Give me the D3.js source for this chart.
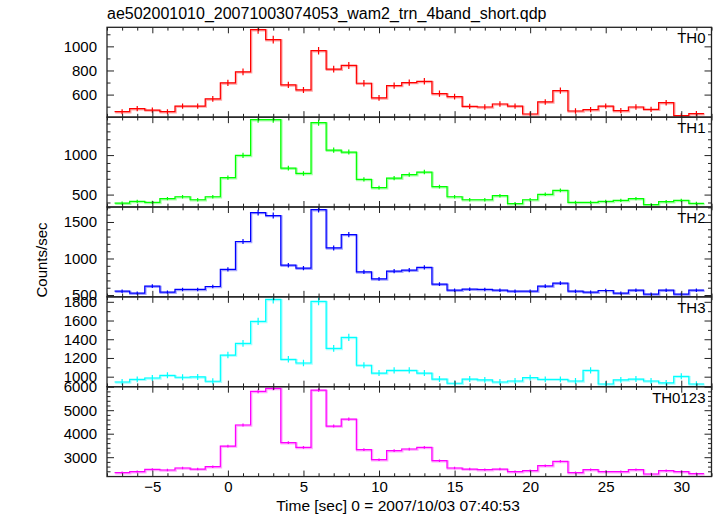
<!DOCTYPE html>
<html>
<head>
<meta charset="utf-8">
<script src="https://cdn.jsdelivr.net/npm/d3@7"></script>
<style>
  html, body { margin: 0; padding: 0; background: #fff; }
  svg { display: block; font-family: "Liberation Sans", Arial, Helvetica, sans-serif; }
</style>
</head>
<body>
<svg id="chart" width="717" height="516"></svg>
<script>
// ---- data ----
const times = [-7,-6,-5,-4,-3,-2,-1,0,1,2,3,4,5,6,7,8,9,10,11,12,13,14,15,16,17,18,19,20,21,22,23,24,25,26,27,28,29,30,31];

const th0 = [458,483,472,458,505,505,564,697,789,1139,1056,681,639,964,811,842,694,572,675,700,710,608,583,503,497,522,505,439,539,633,464,475,505,467,497,478,533,425,442];
const th0Err = [21,22,22,21,22,22,24,26,28,34,32,26,25,31,28,29,26,24,26,26,27,25,24,22,22,23,22,21,23,25,22,22,22,22,22,22,23,21,21];

const th1 = [392,414,401,448,473,435,473,714,996,1448,1448,835,768,1410,1063,1038,692,587,709,752,785,600,473,435,435,486,385,435,503,553,401,401,414,426,448,372,410,426,388];
const th1Err = [20,20,20,21,22,21,22,27,32,38,38,29,28,38,33,32,26,24,27,27,28,24,22,21,21,22,20,21,22,24,20,20,20,21,21,19,20,21,20];

const th2 = [553,526,621,540,577,577,617,850,1233,1629,1588,908,867,1669,1145,1328,817,721,827,840,878,649,567,580,577,567,553,553,621,662,553,540,562,526,567,512,567,512,567];
const th2Err = [24,23,25,23,24,24,25,29,35,40,40,30,29,41,34,36,29,27,29,29,30,25,24,24,24,24,24,24,25,26,24,23,24,23,24,23,24,23,24];

const th3 = [943,972,986,1015,994,997,951,1231,1356,1591,1826,1186,1146,1804,1303,1420,1122,1039,1068,1068,1039,975,930,975,965,943,954,989,972,972,954,1068,922,965,975,954,933,1004,922];
const th3Err = [31,31,31,32,32,32,31,35,37,40,43,34,34,42,36,38,33,32,33,33,32,31,30,31,31,31,31,31,31,31,31,33,30,31,31,31,31,32,30];

const th0123 = [2340,2383,2481,2454,2540,2496,2596,3475,4370,5800,5928,3617,3417,5858,4326,4624,3319,2894,3277,3348,3417,2851,2540,2496,2468,2496,2383,2426,2638,2823,2340,2468,2383,2383,2468,2285,2426,2383,2298];
const th0123Err = [48,49,50,50,50,50,51,59,66,76,77,60,58,77,66,68,58,54,57,58,58,53,50,50,50,50,49,49,51,53,48,50,49,49,50,48,49,49,48];

const panelNames = ["TH0", "TH1", "TH2", "TH3", "TH0123"];
const panelValues = [th0, th1, th2, th3, th0123];
const panelErrors = [th0Err, th1Err, th2Err, th3Err, th0123Err];

const yMajorTicks = [
  [600, 800, 1000],
  [500, 1000],
  [500, 1000, 1500],
  [1000, 1200, 1400, 1600, 1800],
  [3000, 4000, 5000, 6000]
];
const yMinorStep = [100, 100, 100, 100, 200];
const yDomains = [[413, 1158], [343, 1480], [475, 1705], [893, 1853], [2176, 6000]];

const xMajorTicks = [-5, 0, 5, 10, 15, 20, 25, 30];
const xMinorTicks = [-8,-7,-6,-4,-3,-2,-1,1,2,3,4,6,7,8,9,11,12,13,14,16,17,18,19,21,22,23,24,26,27,28,29,31,32];
const xDomain = [-8, 32];

const titleText = "ae502001010_20071003074053_wam2_trn_4band_short.qdp";
const xLabel = "Time [sec] 0 = 2007/10/03 07:40:53";
const yLabel = "Counts/sec";

// ---- styles / layout ----
const colors = ["#ff0000", "#00ff00", "#0000ff", "#00ffff", "#ff00ff"];
const left = 107, right = 711.5, top0 = 27.3, panelH = 89.85;
const fontSize = 15;

const svg = d3.select("#chart");
const x = d3.scaleLinear().domain(xDomain).range([left, right]);

svg.append("text")
  .attr("x", left).attr("y", 19)
  .attr("font-size", 16).attr("fill", "#000")
  .text(titleText);

const defs = svg.append("defs");

panelNames.forEach((name, i) => {
  const yTop = top0 + i * panelH;
  const yBot = yTop + panelH;
  const y = d3.scaleLinear().domain(yDomains[i]).range([yBot, yTop]);
  const g = svg.append("g");

  defs.append("clipPath").attr("id", "clip" + i)
    .append("rect").attr("x", left).attr("y", yTop).attr("width", right - left).attr("height", panelH);

  const vals = panelValues[i];
  const errs = panelErrors[i];
  const pts = [];
  times.forEach((t, k) => { pts.push([t - 0.5, vals[k]]); pts.push([t + 0.5, vals[k]]); });
  const line = d3.line().x(d => x(d[0])).y(d => y(d[1]));

  const data = g.append("g").attr("clip-path", `url(#clip${i})`);
  data.append("path").attr("d", line(pts))
    .attr("fill", "none").attr("stroke", colors[i]).attr("stroke-width", 2.2)
    .attr("stroke-opacity", 0.35).attr("transform", "translate(0.7,0.7)");
  data.append("path").attr("d", line(pts))
    .attr("fill", "none").attr("stroke", colors[i]).attr("stroke-width", 1.2);
  data.selectAll("line.err").data(times).enter().append("line")
    .attr("class", "err")
    .attr("x1", t => x(t)).attr("x2", t => x(t))
    .attr("y1", (t, k) => y(vals[k] - errs[k]))
    .attr("y2", (t, k) => y(vals[k] + errs[k]))
    .attr("stroke", colors[i]).attr("stroke-width", 1.2);

  // y minor ticks
  const [d0, d1] = yDomains[i];
  const step = yMinorStep[i];
  const minors = [];
  for (let v = Math.ceil(d0 / step) * step; v <= d1; v += step) {
    if (!yMajorTicks[i].includes(v)) minors.push(v);
  }

  const styleAxis = sel => {
    sel.select(".domain").remove();
    sel.selectAll(".tick line").attr("stroke", "#222").attr("stroke-width", 1);
    sel.selectAll(".tick text").attr("font-size", fontSize).attr("fill", "#000")
      .attr("font-family", "'Liberation Sans', Arial, sans-serif");
  };

  g.append("g").attr("transform", `translate(${left},0)`)
    .call(d3.axisLeft(y).tickValues(yMajorTicks[i]).tickSize(-7).tickPadding(10).tickFormat(d3.format("d")))
    .call(styleAxis);
  g.append("g").attr("transform", `translate(${left},0)`)
    .call(d3.axisLeft(y).tickValues(minors).tickSize(-3.5).tickFormat(""))
    .call(styleAxis);
  g.append("g").attr("transform", `translate(${right},0)`)
    .call(d3.axisRight(y).tickValues(yMajorTicks[i]).tickSize(-7).tickFormat(""))
    .call(styleAxis);
  g.append("g").attr("transform", `translate(${right},0)`)
    .call(d3.axisRight(y).tickValues(minors).tickSize(-3.5).tickFormat(""))
    .call(styleAxis);

  // x ticks top and bottom
  g.append("g").attr("transform", `translate(0,${yTop})`)
    .call(d3.axisTop(x).tickValues(xMajorTicks).tickSize(-6).tickFormat(""))
    .call(styleAxis);
  g.append("g").attr("transform", `translate(0,${yTop})`)
    .call(d3.axisTop(x).tickValues(xMinorTicks).tickSize(-3.3).tickFormat(""))
    .call(styleAxis);
  const isLast = i === panelNames.length - 1;
  g.append("g").attr("transform", `translate(0,${yBot})`)
    .call(d3.axisBottom(x).tickValues(xMajorTicks).tickSize(-6).tickPadding(isLast ? 5 : 0)
      .tickFormat(isLast ? (d => d < 0 ? "\u2212" + Math.abs(d) : d) : ""))
    .call(styleAxis);
  g.append("g").attr("transform", `translate(0,${yBot})`)
    .call(d3.axisBottom(x).tickValues(xMinorTicks).tickSize(-3.3).tickFormat(""))
    .call(styleAxis);

  // frame
  g.append("rect").attr("x", left).attr("y", yTop).attr("width", right - left).attr("height", panelH)
    .attr("fill", "none").attr("stroke", "#222").attr("stroke-width", 1.3);

  // label
  g.append("text").attr("x", right - 6).attr("y", yTop + 16)
    .attr("text-anchor", "end").attr("font-size", fontSize).attr("fill", "#000")
    .text(name);
});

svg.append("text")
  .attr("x", 398).attr("y", 511)
  .attr("text-anchor", "middle").attr("font-size", 15.5).attr("fill", "#000")
  .text(xLabel);

svg.append("text")
  .attr("transform", "translate(47,260) rotate(-90)")
  .attr("text-anchor", "middle").attr("font-size", fontSize).attr("fill", "#000")
  .text(yLabel);
</script>
</body>
</html>
